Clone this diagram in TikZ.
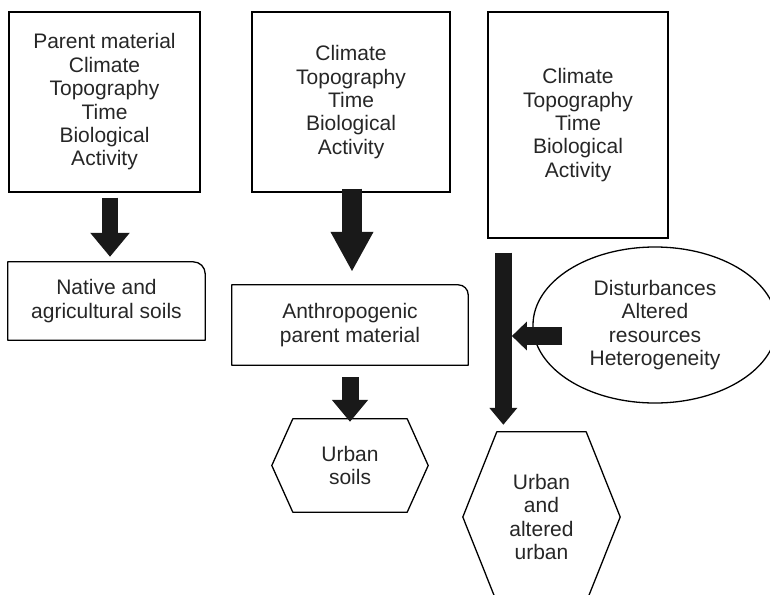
\documentclass[tikz,border=0pt]{standalone}
\usepackage{fontspec}
\setmainfont{Liberation Sans}
\usepackage{xcolor}
\usepackage{tikz}
\usetikzlibrary{calc,positioning,shapes.geometric,arrows.meta}

\tikzset{
  factorbox/.style={draw=black, line width=1.3pt, align=center, inner sep=0pt},
  soilbox/.style={align=center, inner sep=0pt},
  outline/.style={draw=black, line width=1.3pt, line join=round},
  fatarrow/.style n args={3}{
    draw=black!90,
    line width=#1,
    -{Triangle[length=#2,width=#3]}
  }
}

\begin{document}
\begin{tikzpicture}[
    x=1pt, y=-1pt,
    every node/.style={font=\fontsize{21}{23.4}\selectfont, text=black!85}
  ]
    \useasboundingbox (0,0) rectangle (770,594);
    \clip (0,0) rectangle (770,594);

    % soil forming factors
    \node[factorbox, minimum width=191pt, minimum height=180pt]
      (parent) at (104.5,102) {Parent material\\Climate\\Topography\\Time\\Biological\\Activity};
    \node[factorbox, minimum width=198pt, minimum height=180pt]
      (climA) at (351,102) {Climate\\Topography\\Time\\Biological\\Activity};
    \node[factorbox, minimum width=180pt, minimum height=226pt]
      (climB) at (578,125) {Climate\\Topography\\Time\\Biological\\Activity};

    % boxes with one rounded corner
    \node[soilbox, minimum width=197pt, minimum height=78pt]
      (native) at (106.5,301) {Native and\\agricultural soils};
    \draw[outline] (native.south west) -- (native.north west)
      -- ($(native.north east)+(-12,0)$) arc[start angle=90, end angle=0, radius=12pt]
      -- (native.south east) -- cycle;
    \node[soilbox, minimum width=236pt, minimum height=80pt]
      (anthro) at (350,325) {Anthropogenic\\parent material};
    \draw[outline] (anthro.south west) -- (anthro.north west)
      -- ($(anthro.north east)+(-10,0)$) arc[start angle=90, end angle=0, radius=10pt]
      -- (anthro.south east) -- cycle;

    % outcomes
    \node[soilbox, minimum width=156pt, minimum height=93pt]
      (urban) at (350,465.5) {Urban\\soils};
    \draw[outline] (urban.west) -- ([xshift=21pt]urban.north west)
      -- ([xshift=-21pt]urban.north east) -- (urban.east)
      -- ([xshift=-21pt]urban.south east) -- ([xshift=21pt]urban.south west) -- cycle;
    \node[soilbox, minimum width=157pt, minimum height=170pt]
      (urbanalt) at (541.5,517) {Urban\\and\\altered\\urban};
    \draw[outline] (urbanalt.west) -- ([xshift=34pt]urbanalt.north west)
      -- ([xshift=-34pt]urbanalt.north east) -- (urbanalt.east)
      -- ([xshift=-34pt]urbanalt.south east) -- ([xshift=34pt]urbanalt.south west) -- cycle;

    \node[ellipse, draw=black, line width=1.3pt, align=center, inner sep=0pt,
      minimum width=244pt, minimum height=156pt]
      (dist) at (655,325) {Disturbances\\Altered\\resources\\Heterogeneity};

    % block arrows
    \draw[fatarrow={16pt}{24pt}{38pt}]
      ([xshift=5.5pt,yshift=-5pt]parent.south) -- ([xshift=3.5pt,yshift=5pt]native.north);
    \draw[fatarrow={20pt}{40pt}{40pt}]
      ([xshift=1pt,yshift=4pt]climA.south) -- ([xshift=2pt,yshift=13pt]anthro.north);
    \draw[fatarrow={17pt}{22pt}{35pt}]
      ([yshift=-12pt]anthro.south) -- ([yshift=-3pt]urban.north);

    \coordinate (trunktop) at ([xshift=16pt,yshift=-14pt]climB.south west);
    \coordinate (trunkend) at ([yshift=7pt]urbanalt.north -| trunktop);
    \draw[fatarrow={17pt}{17pt}{27pt}] (trunktop) -- (trunkend);

    \coordinate (sidein) at ([xshift=30pt,yshift=-11pt]dist.west);
    \coordinate (sideend) at ($(trunktop |- sidein)+(8.5,0)$);
    \draw[fatarrow={18pt}{15pt}{28pt}] (sidein) -- (sideend);
  \end{tikzpicture}
\end{document}
